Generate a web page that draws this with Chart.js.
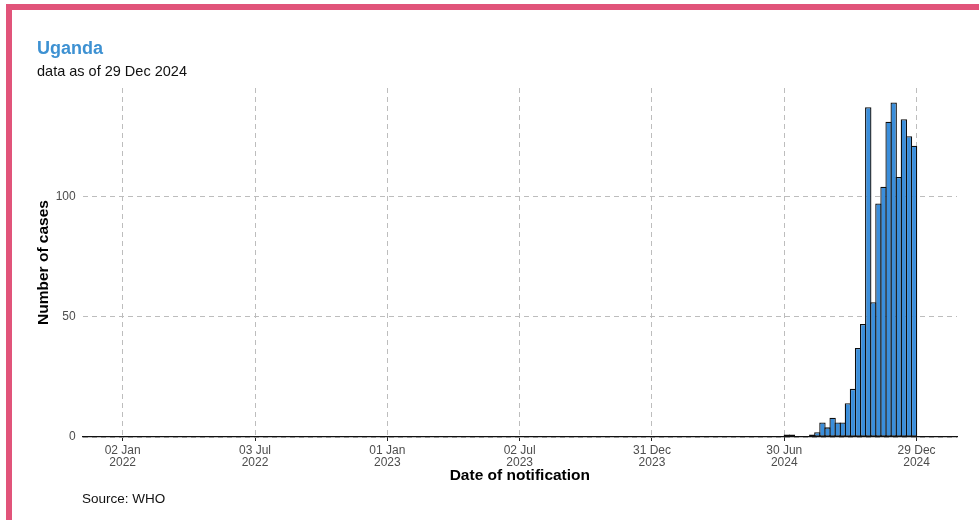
<!DOCTYPE html>
<html>
<head>
<meta charset="utf-8">
<script src="https://cdn.jsdelivr.net/npm/chart.js@4.4.1/dist/chart.umd.min.js"></script>
<style>
    body { margin: 0; background: #fff; font-family: "Liberation Sans", Arial, sans-serif; }
    #frame { position: absolute; left: 6px; top: 4px; width: 973px; height: 516px; box-sizing: border-box;
             border-left: 6px solid #e1547a; border-top: 6px solid #e1547a; }
    #wrap { position: absolute; left: 0; top: 0; width: 979px; height: 520px; }
    .txt { position: absolute; white-space: nowrap; line-height: 1; }
    #title { left: 37px; top: 39px; font-size: 18px; font-weight: bold; color: #3d91d2; }
    #subtitle { left: 37px; top: 64px; font-size: 14.5px; color: #111; }
    #source { left: 82px; top: 492px; font-size: 13.5px; color: #111; }
</style>
</head>
<body>
<div id="frame"></div>
<div id="wrap"><canvas id="casesGraph" width="979" height="520"></canvas></div>
<div class="txt" id="title">Uganda</div>
<div class="txt" id="subtitle">data as of 29 Dec 2024</div>
<div class="txt" id="source">Source: WHO</div>
<script>
// weekly notified cases (week start dates)
var weekStarts = [
    "2024-06-30", "2024-07-07", "2024-07-14", "2024-07-21", "2024-07-28", "2024-08-04",
    "2024-08-11", "2024-08-18", "2024-08-25", "2024-09-01", "2024-09-08", "2024-09-15",
    "2024-09-22", "2024-09-29", "2024-10-06", "2024-10-13", "2024-10-20", "2024-10-27",
    "2024-11-03", "2024-11-10", "2024-11-17", "2024-11-24", "2024-12-01", "2024-12-08",
    "2024-12-15", "2024-12-22"
];
var weeklyCases = [1, 1, 0, 0, 0, 1, 2, 6, 4, 8, 6, 6, 14, 20, 37, 47, 137, 56, 97, 104, 131, 139, 108, 132, 125, 121];

var tickDates = ["2022-01-02", "2022-07-03", "2023-01-01", "2023-07-02", "2023-12-31", "2024-06-30", "2024-12-29"];
var tickLabels = [
    ["02 Jan", "2022"], ["03 Jul", "2022"], ["01 Jan", "2023"], ["02 Jul", "2023"],
    ["31 Dec", "2023"], ["30 Jun", "2024"], ["29 Dec", "2024"]
];
var yTicks = [0, 50, 100];

var origin = Date.parse("2022-01-02");
function week_of(d) {
    return (Date.parse(d) - origin) / (7 * 864e5);
}

var barData = [];
for (var i = 0; i < weekStarts.length; i++) {
    barData.push({ x: week_of(weekStarts[i]) + 0.5, y: weeklyCases[i] });
}
var tickWeeks = tickDates.map(week_of);

var tickFont = { family: "'Liberation Sans', Arial, sans-serif", size: 12, lineHeight: 1.05 };
var titleFont = { family: "'Liberation Sans', Arial, sans-serif", size: 15.5, weight: "bold", lineHeight: 1.2 };

var casesGraph = new Chart("casesGraph", {
    type: "bar",
    data: {
        datasets: [{
            data: barData,
            backgroundColor: "#3a8edb",
            borderColor: "#0d0d0d",
            borderWidth: 1.3,
            borderSkipped: false,
            barPercentage: 1.256,
            categoryPercentage: 1,
        }],
    },
    options: {
        responsive: false,
        animation: false,
        events: [],
        layout: { padding: { left: 34, right: 22, top: 88, bottom: 35 } },
        plugins: { legend: { display: false }, tooltip: { enabled: false } },
        scales: {
            x: {
                type: "linear",
                min: -7.86,
                max: 163.94,
                offset: false,
                afterBuildTicks: (scale) => {
                    scale.ticks = tickWeeks.map((v) => ({ value: v }));
                },
                afterFit: (scale) => {
                    scale.height = 48;
                },
                ticks: {
                    autoSkip: false,
                    maxRotation: 0,
                    padding: 3,
                    color: "#4d4d4d",
                    font: tickFont,
                    callback: (value, index) => tickLabels[index],
                },
                grid: {
                    offset: false,
                    color: "#bdbdbd",
                    lineWidth: 1,
                    tickLength: 4,
                    tickColor: "#222",
                    tickWidth: 1,
                },
                border: {
                    display: true, color: "#111", width: 1.2, z: 1,
                    dash: (c) => (c.type === "tick" ? [5, 4] : []),
                },
                title: { display: true, text: "Date of notification", color: "#000", font: titleFont, padding: 0 },
            },
            y: {
                min: 0,
                max: 145,
                afterBuildTicks: (scale) => {
                    scale.ticks = yTicks.map((v) => ({ value: v }));
                },
                afterFit: (scale) => {
                    scale.width = 48.7;
                },
                ticks: { padding: 7, color: "#4d4d4d", font: tickFont },
                grid: { color: "#bdbdbd", lineWidth: 1, drawTicks: false },
                border: { display: false, dash: [5, 4] },
                title: { display: true, text: "Number of cases", color: "#000", font: titleFont, padding: 0 },
            },
        },
    },
});
</script>
</body>
</html>
